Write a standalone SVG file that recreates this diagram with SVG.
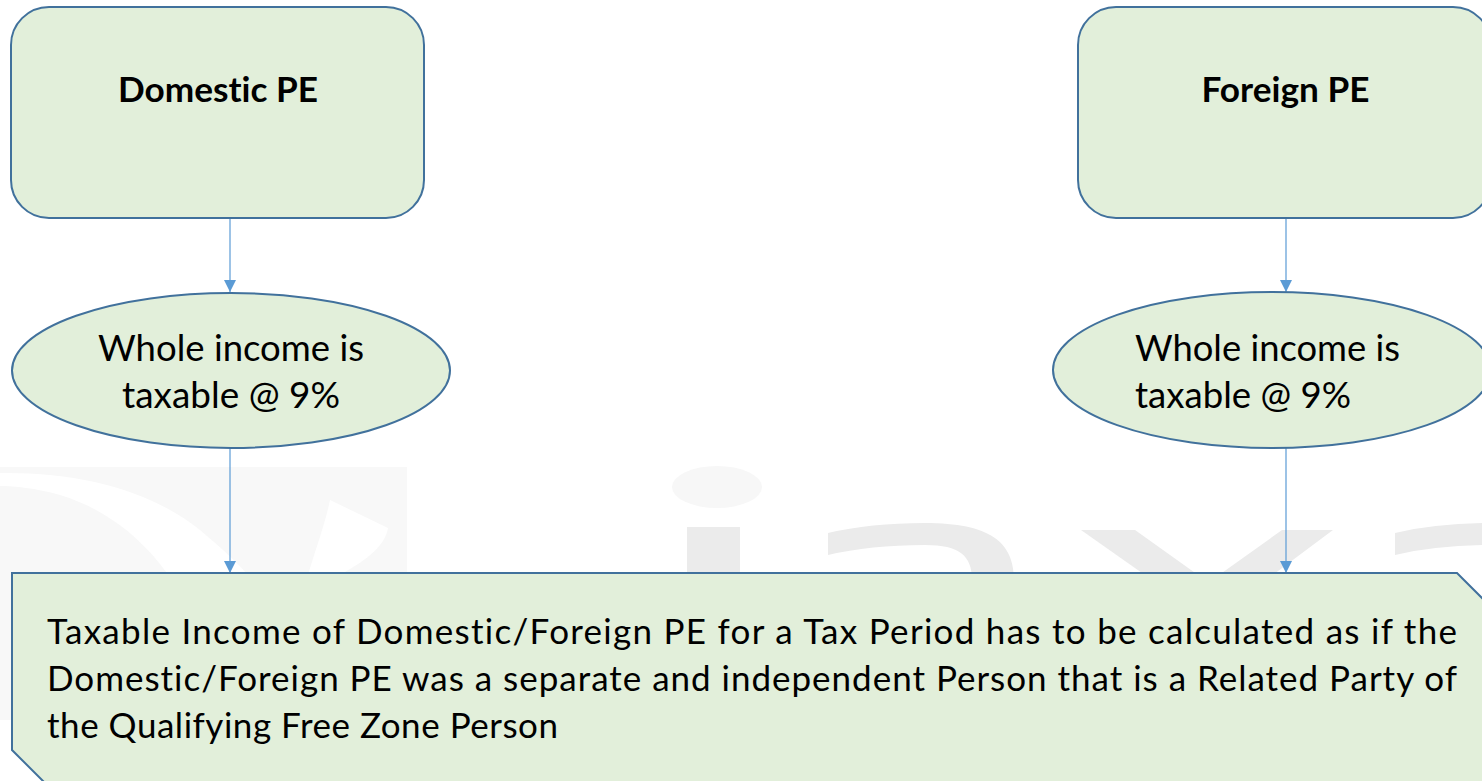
<svg xmlns="http://www.w3.org/2000/svg" width="1482" height="781" viewBox="0 0 1482 781">
  <defs>
    <style>
      .shape { fill: #e2efda; stroke: #41719c; stroke-width: 2; }
      .label { font-family: Lato, "Liberation Sans", sans-serif; fill: #000000; font-variant-ligatures: none; }
      .title { font-size: 34px; font-weight: bold; text-anchor: middle; }
      .body { font-size: 36px; }
      .note { font-size: 35px; }
      .link { stroke: #5b9bd5; stroke-width: 1.2; fill: none; }
      .mark { fill: #ebebeb; }
    </style>
    <marker id="arrow" viewBox="0 0 12 12" refX="12" refY="6" markerWidth="12" markerHeight="12" markerUnits="userSpaceOnUse" orient="auto">
      <path d="M0,0 L12,6 L0,12 Z" fill="#5b9bd5"/>
    </marker>
    <!-- upper bowl of the faint backdrop mark -->
    <path id="arch" d="M828,533 Q870,523 925,523 C990,523 1014,542 1014,580 L972,580 C972,556 960,545 925,545 Q870,545 828,555 Z"/>
  </defs>

  <rect width="1482" height="781" fill="#ffffff"/>

  <!-- faint background mark, mostly hidden behind the lower box -->
  <g id="backdrop">
    <rect x="0" y="467" width="407" height="253" fill="#f8f8f8"/>
    <path d="M0,473 C80,472 150,490 200,530 C230,555 250,575 255,585 L175,585 C150,545 110,510 60,495 C35,488 15,486 0,486 Z" fill="#ffffff"/>
    <path d="M330,500 L388,528 C385,545 370,558 340,575 L305,585 C315,550 325,525 330,500 Z" fill="#ffffff"/>
    <ellipse cx="717" cy="487" rx="45" ry="21" fill="#f7f7f7"/>
    <rect class="mark" x="687" y="527" width="53" height="55"/>
    <use href="#arch" class="mark"/>
    <polygon class="mark" points="1081,530 1135,530 1205,580 1152,580"/>
    <polygon class="mark" points="1282,530 1333,530 1266,580 1212,580"/>
    <use href="#arch" class="mark" transform="translate(567,0)"/>
  </g>

  <!-- connectors -->
  <g id="connectors">
    <line class="link" x1="230" y1="218" x2="230" y2="292" marker-end="url(#arrow)"/>
    <line class="link" x1="1286" y1="218" x2="1286" y2="292" marker-end="url(#arrow)"/>
    <line class="link" x1="230" y1="448" x2="230" y2="573" marker-end="url(#arrow)"/>
    <line class="link" x1="1286" y1="448" x2="1286" y2="573" marker-end="url(#arrow)"/>
  </g>

  <g id="domestic-pe">
    <rect class="shape" x="11" y="7" width="413" height="211" rx="38" ry="38"/>
    <text class="label title" x="218" y="102" textLength="200" lengthAdjust="spacingAndGlyphs">Domestic PE</text>
  </g>

  <g id="foreign-pe">
    <rect class="shape" x="1078" y="7" width="413" height="211" rx="38" ry="38"/>
    <text class="label title" x="1285.5" y="102" textLength="168" lengthAdjust="spacingAndGlyphs">Foreign PE</text>
  </g>

  <g id="domestic-tax">
    <ellipse class="shape" cx="231" cy="370.5" rx="219" ry="77.5"/>
    <text class="label body" x="98" y="361" textLength="266" lengthAdjust="spacingAndGlyphs">Whole income is</text>
    <text class="label body" x="122" y="408" textLength="218" lengthAdjust="spacingAndGlyphs">taxable @ 9%</text>
  </g>

  <g id="foreign-tax">
    <ellipse class="shape" cx="1272" cy="370" rx="219" ry="78"/>
    <text class="label body" x="1135" y="361" textLength="265" lengthAdjust="spacingAndGlyphs">Whole income is</text>
    <text class="label body" x="1135" y="408" textLength="216" lengthAdjust="spacingAndGlyphs">taxable @ 9%</text>
  </g>

  <g id="taxable-income">
    <polygon class="shape" points="12,573 1457,573 1490,606 1490,786 48,786 12,750"/>
    <text class="label note" x="47" y="644" textLength="1410" lengthAdjust="spacing">Taxable Income of Domestic/Foreign PE for a Tax Period has to be calculated as if the</text>
    <text class="label note" x="47" y="691" textLength="1410" lengthAdjust="spacing">Domestic/Foreign PE was a separate and independent Person that is a Related Party of</text>
    <text class="label note" x="47" y="738" textLength="511" lengthAdjust="spacing">the Qualifying Free Zone Person</text>
  </g>
</svg>
